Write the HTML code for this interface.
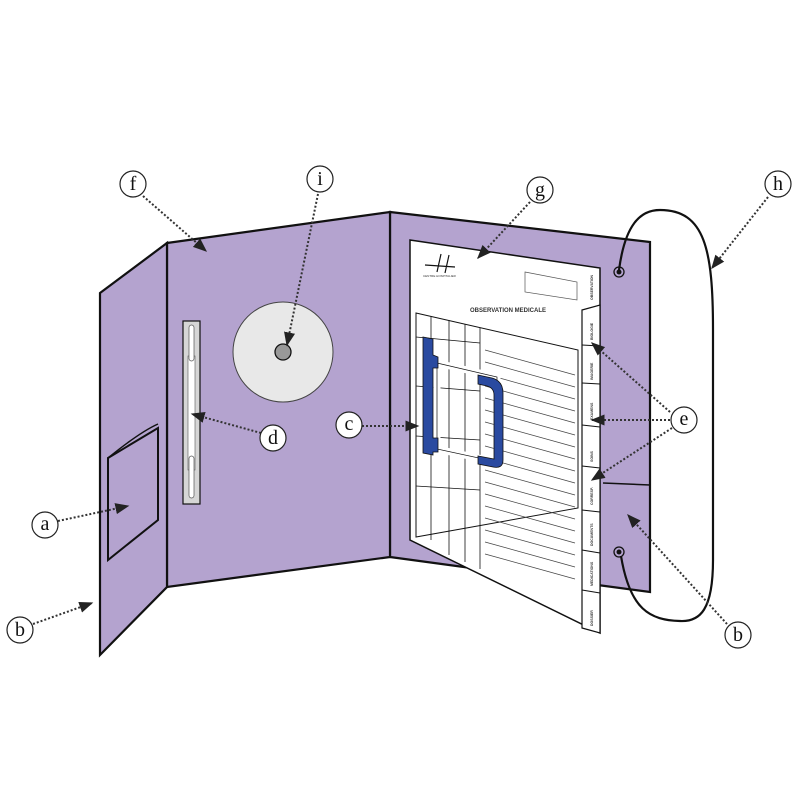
<!DOCTYPE html>
<html><head><style>html,body{margin:0;padding:0;background:#fff}svg{display:block}</style></head>
<body>
<svg width="800" height="800" viewBox="0 0 800 800" xmlns="http://www.w3.org/2000/svg" font-family="Liberation Serif, serif">
<defs>
<marker id="ar" viewBox="0 0 10 10" refX="9" refY="5" markerWidth="7" markerHeight="7" orient="auto"><path d="M0,1 L10,5 L0,9 z" fill="#222"/></marker>
</defs>
<polygon points="390,212 650,242 650,592 560,580 390,557" fill="#b4a3cf" stroke="#111" stroke-width="2.2"/>
<line x1="603" y1="483" x2="650" y2="485" stroke="#111" stroke-width="1.5"/>
<polygon points="167,243 390,212 390,557 167,587" fill="#b4a3cf" stroke="#111" stroke-width="2.2"/>
<polygon points="100,293 167,243 167,587 100,655" fill="#b4a3cf" stroke="#111" stroke-width="2.2"/>
<path d="M108,458 L158,428 L158,520 L108,560 Z" fill="none" stroke="#111" stroke-width="2"/>
<path d="M108,458 Q140,432 158,424" fill="none" stroke="#111" stroke-width="1.5"/>
<rect x="183" y="321" width="17" height="183" fill="#d6d6d6" stroke="#111" stroke-width="1.2"/>
<rect x="188" y="356" width="7" height="114" fill="#fff" stroke="#555" stroke-width="0.6"/>
<rect x="189" y="325" width="5" height="36" rx="2.5" fill="#fff" stroke="#555" stroke-width="0.7"/>
<rect x="189" y="456" width="5" height="42" rx="2.5" fill="#fff" stroke="#555" stroke-width="0.7"/>
<circle cx="283" cy="352" r="50" fill="#e8e8e8" stroke="#444" stroke-width="1"/>
<circle cx="283" cy="352" r="8" fill="#999" stroke="#111" stroke-width="1.3"/>
<circle cx="619" cy="272" r="5" fill="none" stroke="#111" stroke-width="1.3"/><circle cx="619" cy="272" r="2.5" fill="#111"/>
<circle cx="619" cy="552" r="5" fill="none" stroke="#111" stroke-width="1.3"/><circle cx="619" cy="552" r="2.5" fill="#111"/>
<path d="M619,270 C625,225 640,210 660,210 C705,210 713,250 713,330 L713,560 C713,610 700,622 680,621 C650,620 630,610 621,556" fill="none" stroke="#111" stroke-width="2.2"/>
<polygon points="410,240 600,268 600,633 410,540" fill="#fff" stroke="#111" stroke-width="1.5"/>
<polygon points="582,310 600,305 600,633 582,628" fill="#fff" stroke="#111" stroke-width="1.2"/>
<g stroke="#111" stroke-width="1"><line x1="582" y1="345" x2="600" y2="346"/><line x1="582" y1="383" x2="600" y2="384"/><line x1="582" y1="425" x2="600" y2="427"/><line x1="582" y1="466" x2="600" y2="468"/><line x1="582" y1="510" x2="600" y2="512"/><line x1="582" y1="550" x2="600" y2="553"/><line x1="582" y1="590" x2="600" y2="593"/></g>
<g font-family="Liberation Sans, sans-serif" font-size="3.5" font-weight="bold" fill="#333">
<text transform="translate(593,300) rotate(-90)">OBSERVATION</text>
<text transform="translate(593,340) rotate(-90)">BIOLOGIE</text>
<text transform="translate(593,380) rotate(-90)">IMAGERIE</text>
<text transform="translate(593,420) rotate(-90)">EXAMENS</text>
<text transform="translate(593,462) rotate(-90)">SOINS</text>
<text transform="translate(593,505) rotate(-90)">CORRESP.</text>
<text transform="translate(593,546) rotate(-90)">DOCUMENTS</text>
<text transform="translate(593,586) rotate(-90)">MEDICATIONS</text>
<text transform="translate(593,626) rotate(-90)">DOSSIER</text>
<text x="470" y="312" font-size="6">OBSERVATION MEDICALE</text>
<text x="423" y="277" font-size="3" font-weight="normal">CENTRE HOSPITALIER</text>
</g>
<path d="M425,265 L455,267 M441,254 L437,272 M449,255 L445,273" stroke="#111" stroke-width="1.2"/>
<polygon points="525,272 577,282 577,300 525,292" fill="none" stroke="#555" stroke-width="0.7"/>
<polygon points="416,313 578,350 578,508 416,537" fill="none" stroke="#111" stroke-width="1"/>
<g stroke="#111" stroke-width="0.8">
<line x1="431" y1="316" x2="431" y2="540"/>
<line x1="449" y1="320" x2="449" y2="555"/>
<line x1="465" y1="324" x2="465" y2="562"/>
<line x1="480" y1="328" x2="480" y2="569"/>
<line x1="416" y1="337" x2="480" y2="343"/>
<line x1="416" y1="386" x2="480" y2="391"/>
<line x1="416" y1="436" x2="480" y2="440"/>
<line x1="416" y1="486" x2="480" y2="490"/>
</g>
<g stroke="#444" stroke-width="0.7">
<line x1="485" y1="350" x2="575" y2="375"/><line x1="485" y1="362" x2="575" y2="387"/><line x1="485" y1="374" x2="575" y2="399"/><line x1="485" y1="386" x2="575" y2="411"/><line x1="485" y1="398" x2="575" y2="423"/><line x1="485" y1="410" x2="575" y2="435"/><line x1="485" y1="422" x2="575" y2="447"/><line x1="485" y1="434" x2="575" y2="459"/><line x1="485" y1="446" x2="575" y2="471"/><line x1="485" y1="458" x2="575" y2="483"/><line x1="485" y1="470" x2="575" y2="495"/><line x1="485" y1="482" x2="575" y2="507"/><line x1="485" y1="494" x2="575" y2="519"/><line x1="485" y1="506" x2="575" y2="531"/><line x1="485" y1="518" x2="575" y2="543"/><line x1="485" y1="530" x2="575" y2="555"/><line x1="485" y1="542" x2="575" y2="567"/><line x1="485" y1="554" x2="575" y2="579"/>
</g>
<!-- clip frame -->
<polygon points="437,363 497,377 497,462 437,449" fill="none" stroke="#fff" stroke-width="7"/>
<polygon points="437,363 497,377 497,462 437,449" fill="none" stroke="#111" stroke-width="0.7"/>
<path d="M423,337 L433,339 L433,355 L438,357 L438,368 L433,368 L433,438 L438,438 L438,452 L433,452 L433,455 L423,453 Z" fill="#2a4aa0" stroke="#111" stroke-width="0.8"/>
<path d="M478,375 L492,378 Q503,381 503,393 L503,460 Q503,469 493,467 L478,464 L478,456 L494,459 L494,395 Q494,388 487,386 L478,384 Z" fill="#2a4aa0" stroke="#111" stroke-width="0.8"/>
<g stroke="#333" stroke-width="2" stroke-dasharray="2,2" fill="none" marker-end="url(#ar)">
<line x1="143" y1="196" x2="206" y2="251"/>
<line x1="318" y1="194" x2="287" y2="345"/>
<line x1="530" y1="202" x2="478" y2="258"/>
<line x1="768" y1="197" x2="712" y2="268"/>
<line x1="362" y1="426" x2="418" y2="426"/>
<line x1="261" y1="433" x2="192" y2="414"/>
<line x1="670" y1="412" x2="592" y2="343"/>
<line x1="670" y1="420" x2="592" y2="420"/>
<line x1="672" y1="428" x2="592" y2="480"/>
<line x1="58" y1="521" x2="128" y2="506"/>
<line x1="33" y1="624" x2="92" y2="603"/>
<line x1="727" y1="624" x2="628" y2="515"/>
</g>
<g font-size="20" text-anchor="middle" fill="#111">
<g stroke="#222" stroke-width="1.2" fill="#fff">
<circle cx="133" cy="184" r="13"/><circle cx="320" cy="179" r="13"/><circle cx="540" cy="190" r="13"/><circle cx="778" cy="184" r="13"/><circle cx="349" cy="425" r="13"/><circle cx="273" cy="438" r="13"/><circle cx="684" cy="420" r="13"/><circle cx="45" cy="525" r="13"/><circle cx="20" cy="630" r="13"/><circle cx="738" cy="635" r="13"/>
</g>
<text x="133" y="190">f</text><text x="320" y="185">i</text><text x="540" y="196">g</text><text x="778" y="190">h</text><text x="349" y="430">c</text><text x="273" y="444">d</text><text x="684" y="425">e</text><text x="45" y="530">a</text><text x="20" y="636">b</text><text x="738" y="641">b</text>
</g>
</svg>
</body></html>
